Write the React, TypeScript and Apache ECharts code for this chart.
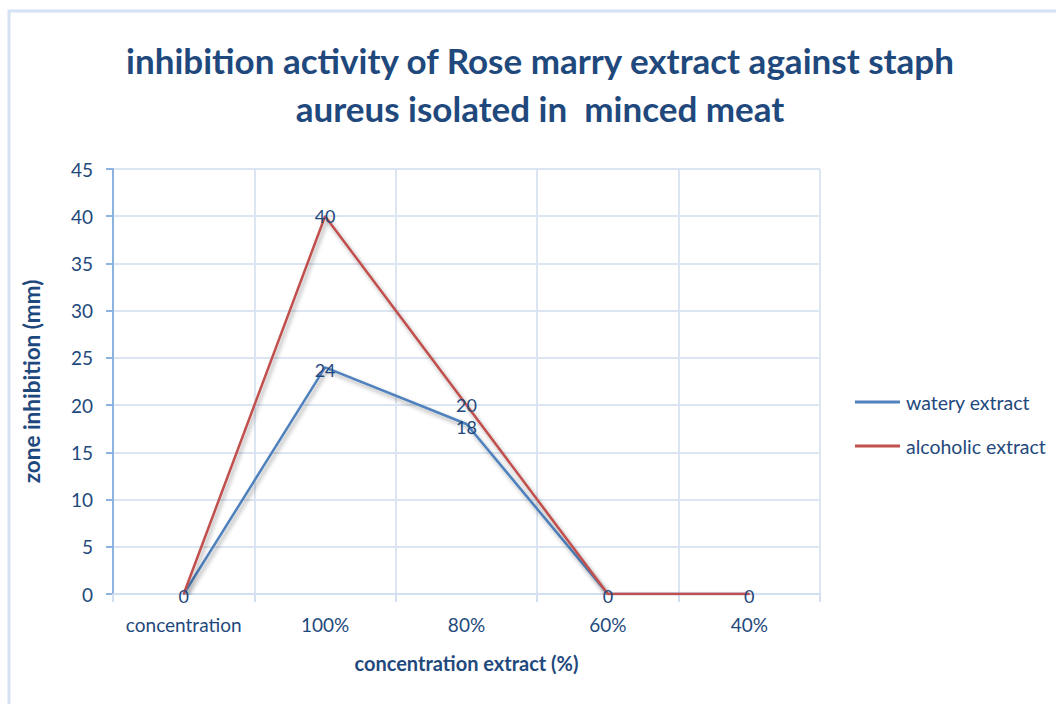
import React, { useEffect, useRef } from "react";
import * as echarts from "echarts";

const categories = ["concentration", "100%", "80%", "60%", "40%"];
const wateryValues = [0, 24, 18, 0, 0];
const alcoholicValues = [0, 40, 20, 0, 0];
const yTicks = { min: 0, max: 45, interval: 5 };
const titleText = "inhibition activity of Rose marry extract against staph\naureus isolated in  minced meat";

const FONT = "Lato, 'Open Sans', sans-serif";
const TEXT = "#1F497D";

export default function App() {
  const ref = useRef<HTMLDivElement>(null);
  useEffect(() => {
    if (!ref.current) return;
    const chart = echarts.init(ref.current, null, { renderer: "svg" });
    const shadow = {
      shadowColor: "rgba(0,0,0,0.35)",
      shadowBlur: 4,
      shadowOffsetX: 2,
      shadowOffsetY: 3,
    };
    const label = (dy: number) => ({
      show: true,
      position: "inside",
      offset: [0, dy],
      fontFamily: FONT,
      fontSize: 18,
      lineHeight: 18,
      color: TEXT,
    });
    // Where both series are 0 the reference shows one "0" label (over the top line).
    const bothZero = (i: number) => wateryValues[i] === 0 && alcoholicValues[i] === 0;
    const wateryData = wateryValues.map((v, i) =>
      bothZero(i) ? { value: v, label: { show: false } } : v
    );
    const alcoholicData = alcoholicValues.map((v, i) =>
      bothZero(i) ? { value: v, label: { offset: [0, 2] } } : v
    );
    chart.setOption({
      animation: false,
      backgroundColor: "#ffffff",
      graphic: [
        {
          type: "rect",
          shape: { x: 9, y: 11, width: 1200, height: 900 },
          style: { fill: "none", stroke: "#D5E2F3", lineWidth: 3 },
          z: -10,
        },
      ],
      title: {
        text: titleText,
        left: 540,
        top: 36,
        padding: 0,
        textAlign: "center",
        textStyle: {
          fontFamily: FONT,
          fontWeight: "bold",
          fontSize: 35,
          lineHeight: 48,
          color: TEXT,
        },
      },
      legend: {
        orient: "vertical",
        left: 850,
        top: 387,
        itemWidth: 45,
        itemHeight: 3,
        itemGap: 24,
        icon: "rect",
        itemStyle: { opacity: 1 },
        textStyle: { fontFamily: FONT, fontSize: 19.5, color: TEXT, padding: [0, 0, 0, 1] },
        data: ["watery extract", "alcoholic extract"],
      },
      grid: { left: 113, right: 236, top: 169, bottom: 110, containLabel: false },
      xAxis: {
        type: "category",
        data: categories,
        boundaryGap: true,
        name: "concentration extract (%)",
        nameLocation: "middle",
        nameGap: 59,
        nameTextStyle: { fontFamily: FONT, fontWeight: "bold", fontSize: 20, color: TEXT },
        axisLine: { lineStyle: { color: "#D3E0F1", width: 2 } },
        axisTick: { show: true, length: 8, interval: 0, lineStyle: { color: "#D3E0F1", width: 2 } },
        axisLabel: { fontFamily: FONT, fontSize: 19, color: TEXT, margin: 21, interval: 0 },
        splitLine: { show: true, interval: 0, lineStyle: { color: "#DCE6F2", width: 2 } },
      },
      yAxis: {
        type: "value",
        min: yTicks.min,
        max: yTicks.max,
        interval: yTicks.interval,
        name: "zone inhibition (mm)",
        nameLocation: "middle",
        nameGap: 70,
        nameTextStyle: { fontFamily: FONT, fontWeight: "bold", fontSize: 22.5, color: TEXT },
        axisLine: { show: true, lineStyle: { color: "#8DB3E2", width: 2 } },
        axisTick: { show: true, length: 7, lineStyle: { color: "#8DB3E2", width: 2 } },
        axisLabel: { fontFamily: FONT, fontSize: 19, color: TEXT, margin: 20 },
        splitLine: { show: true, lineStyle: { color: "#DCE6F2", width: 2 } },
      },
      series: [
        {
          name: "watery extract",
          type: "line",
          data: wateryData,
          symbol: "circle",
          symbolSize: 1,
          itemStyle: { color: "#4F81BD" },
          color: "#4F81BD",
          lineStyle: { width: 2.5, color: "#4F81BD", ...shadow },
          label: label(3),
          z: 2,
        },
        {
          name: "alcoholic extract",
          type: "line",
          data: alcoholicData,
          symbol: "circle",
          symbolSize: 1,
          itemStyle: { color: "#C0504D" },
          color: "#C0504D",
          lineStyle: { width: 2.5, color: "#C0504D", ...shadow },
          label: label(0),
          z: 3,
        },
      ],
    });
    return () => chart.dispose();
  }, []);
  return (
    <div
      ref={ref}
      style={{ position: "fixed", left: 0, top: 0, width: 1056, height: 704 }}
    />
  );
}
